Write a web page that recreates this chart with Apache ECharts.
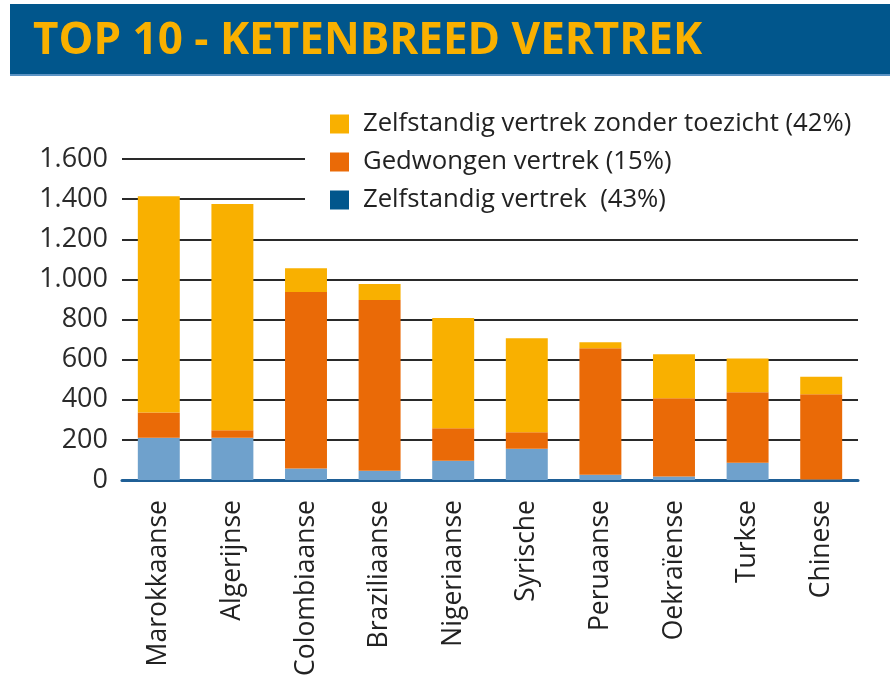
<!DOCTYPE html>
<html>
<head>
<meta charset="utf-8">
<script src="https://cdn.jsdelivr.net/npm/echarts@6/dist/echarts.min.js"></script>
<style>
  html, body { margin: 0; padding: 0; background: #fff; }
  #chart { width: 890px; height: 687px; }
</style>
</head>
<body>
<div id="chart"></div>
<script>
const categories = ['Marokkaanse', 'Algerijnse', 'Colombiaanse', 'Braziliaanse', 'Nigeriaanse', 'Syrische', 'Peruaanse', 'Oekraïense', 'Turkse', 'Chinese']
// onderste stuk: zelfstandig vertrek
const zelfstandig = [210, 210, 57, 46, 96, 156, 26, 18, 86, 2]
// middelste stuk: gedwongen vertrek
const gedwongen = [126, 38, 880, 851, 162, 82, 631, 390, 352, 426]
// bovenste stuk: zelfstandig zonder toezicht
const zonderToezicht = [1078, 1128, 119, 80, 549, 469, 30, 219, 167, 87]
const yTicks = [0, 200, 400, 600, 800, 1000, 1200, 1400, 1600]

const names = {
  zonder: 'Zelfstandig vertrek zonder toezicht (42%)',
  gedwongen: 'Gedwongen vertrek (15%)',
  zelf: 'Zelfstandig vertrek  (43%)'
}

const font = '"Open Sans", "Noto Sans", sans-serif'
const chart = echarts.init(document.getElementById('chart'))

const option = {
  animation: false,
  graphic: [
    {
      type: 'rect',
      shape: { x: 10, y: 4, width: 880, height: 71 },
      style: { fill: '#01568c' },
      z: 10
    },
    {
      type: 'rect',
      shape: { x: 10, y: 74, width: 880, height: 2 },
      style: { fill: '#5b93c4' },
      z: 10
    },
    {
      type: 'text',
      left: 33,
      top: 19,
      z: 11,
      style: {
        text: 'TOP 10 - KETENBREED VERTREK',
        fill: '#f9b000',
        font: 'bold 44px "Open Sans", sans-serif'
      }
    }
  ],
  legend: {
    orient: 'vertical',
    left: 305,
    top: 105,
    padding: [6, 26, 6, 25],
    backgroundColor: '#fff',
    itemWidth: 19,
    itemHeight: 19,
    itemGap: 12,
    icon: 'rect',
    textStyle: { color: '#222', fontSize: 25.7, fontFamily: font, padding: [0, 0, 0, 9] },
    data: [
      { name: names.zonder, itemStyle: { color: '#f9b000' } },
      { name: names.gedwongen, itemStyle: { color: '#ea6a07' } },
      { name: names.zelf, itemStyle: { color: '#01568c' } }
    ]
  },
  grid: {
    left: 122,
    right: 32,
    top: 159,
    bottom: 207
  },
  xAxis: {
    type: 'category',
    data: categories,
    axisLine: { lineStyle: { color: '#1f5f96', width: 3 } },
    axisTick: { show: false },
    axisLabel: {
      rotate: 90,
      margin: 20,
      color: '#222',
      fontSize: 26.5,
      fontFamily: font
    }
  },
  yAxis: {
    type: 'value',
    min: yTicks[0],
    max: yTicks[yTicks.length - 1],
    interval: 200,
    axisLine: { show: false },
    axisTick: { show: false },
    axisLabel: {
      margin: 14,
      color: '#2a2a2a',
      fontSize: 27,
      fontFamily: font,
      formatter: v => String(v).replace(/\B(?=(\d{3})+(?!\d))/g, '.')
    },
    splitLine: { lineStyle: { color: '#2a2a2a', width: 2 } }
  },
  series: [
    {
      name: names.zelf,
      type: 'bar',
      stack: 'vertrek',
      barWidth: '57%',
      data: zelfstandig,
      itemStyle: { color: '#6fa1cc' }
    },
    {
      name: names.gedwongen,
      type: 'bar',
      stack: 'vertrek',
      data: gedwongen,
      itemStyle: { color: '#ea6a07' }
    },
    {
      name: names.zonder,
      type: 'bar',
      stack: 'vertrek',
      data: zonderToezicht,
      itemStyle: { color: '#f9b000' }
    }
  ]
}
chart.setOption(option)
</script>
</body>
</html>
